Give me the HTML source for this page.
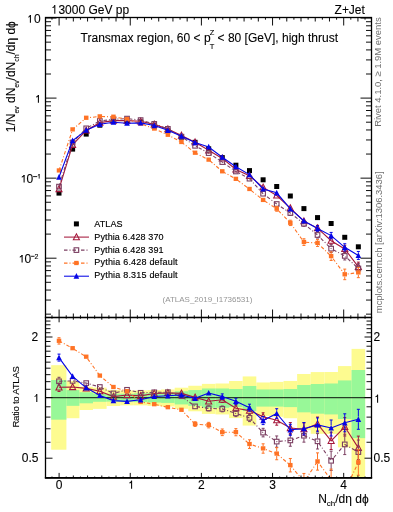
<!DOCTYPE html><html><head><meta charset="utf-8"><style>html,body{margin:0;padding:0;background:#fff;}svg{display:block;}</style></head><body>
<svg style="will-change:transform" width="393" height="512" viewBox="0 0 393 512" font-family='"Liberation Sans", sans-serif'>
<style>text{stroke:currentColor;stroke-width:0.1px;} text.g{stroke:none;} text.b{stroke-width:0.15px;}</style>
<rect x="0" y="0" width="393" height="512" fill="#fff"/>
<defs><clipPath id="cm"><rect x="45.5" y="17.5" width="326.0" height="300.0"/></clipPath><clipPath id="cr"><rect x="45.5" y="317.5" width="326.0" height="160.2"/></clipPath></defs>
<g clip-path="url(#cr)">
<rect x="51.20" y="365.18" width="15.20" height="84.53" fill="#fdfb90"/>
<rect x="66.40" y="380.94" width="13.01" height="37.27" fill="#fdfb90"/>
<rect x="79.41" y="386.76" width="13.60" height="23.22" fill="#fdfb90"/>
<rect x="93.02" y="387.61" width="13.60" height="21.26" fill="#fdfb90"/>
<rect x="106.63" y="389.95" width="13.60" height="16.04" fill="#fdfb90"/>
<rect x="120.23" y="390.47" width="13.60" height="14.90" fill="#fdfb90"/>
<rect x="133.84" y="390.47" width="13.60" height="14.90" fill="#fdfb90"/>
<rect x="147.45" y="390.07" width="13.60" height="15.78" fill="#fdfb90"/>
<rect x="161.06" y="389.51" width="13.60" height="17.01" fill="#fdfb90"/>
<rect x="174.66" y="387.69" width="13.60" height="21.08" fill="#fdfb90"/>
<rect x="188.27" y="385.76" width="13.60" height="25.53" fill="#fdfb90"/>
<rect x="201.88" y="383.87" width="13.60" height="30.02" fill="#fdfb90"/>
<rect x="215.48" y="383.50" width="13.60" height="30.92" fill="#fdfb90"/>
<rect x="229.09" y="381.01" width="13.60" height="37.09" fill="#fdfb90"/>
<rect x="242.70" y="376.43" width="13.60" height="49.16" fill="#fdfb90"/>
<rect x="256.31" y="382.47" width="13.60" height="33.45" fill="#fdfb90"/>
<rect x="269.91" y="381.88" width="13.60" height="34.90" fill="#fdfb90"/>
<rect x="283.52" y="380.94" width="13.60" height="37.27" fill="#fdfb90"/>
<rect x="297.13" y="373.99" width="13.60" height="56.05" fill="#fdfb90"/>
<rect x="310.73" y="372.08" width="13.60" height="61.71" fill="#fdfb90"/>
<rect x="324.34" y="372.01" width="13.60" height="61.91" fill="#fdfb90"/>
<rect x="337.95" y="366.09" width="13.60" height="81.27" fill="#fdfb90"/>
<rect x="351.55" y="348.88" width="13.60" height="168.53" fill="#fdfb90"/>
<rect x="51.20" y="380.00" width="15.20" height="39.66" fill="#98f898"/>
<rect x="66.40" y="390.07" width="13.01" height="15.78" fill="#98f898"/>
<rect x="79.41" y="392.26" width="13.60" height="11.03" fill="#98f898"/>
<rect x="93.02" y="393.58" width="13.60" height="8.22" fill="#98f898"/>
<rect x="106.63" y="393.75" width="13.60" height="7.87" fill="#98f898"/>
<rect x="120.23" y="393.75" width="13.60" height="7.87" fill="#98f898"/>
<rect x="133.84" y="393.33" width="13.60" height="8.75" fill="#98f898"/>
<rect x="147.45" y="392.92" width="13.60" height="9.63" fill="#98f898"/>
<rect x="161.06" y="392.59" width="13.60" height="10.33" fill="#98f898"/>
<rect x="174.66" y="391.28" width="13.60" height="13.14" fill="#98f898"/>
<rect x="188.27" y="390.07" width="13.60" height="15.78" fill="#98f898"/>
<rect x="201.88" y="388.48" width="13.60" height="19.31" fill="#98f898"/>
<rect x="215.48" y="388.48" width="13.60" height="19.31" fill="#98f898"/>
<rect x="229.09" y="389.03" width="13.60" height="18.07" fill="#98f898"/>
<rect x="242.70" y="385.99" width="13.60" height="25.00" fill="#98f898"/>
<rect x="256.31" y="389.43" width="13.60" height="17.19" fill="#98f898"/>
<rect x="269.91" y="389.43" width="13.60" height="17.19" fill="#98f898"/>
<rect x="283.52" y="389.03" width="13.60" height="18.07" fill="#98f898"/>
<rect x="297.13" y="385.00" width="13.60" height="27.32" fill="#98f898"/>
<rect x="310.73" y="384.02" width="13.60" height="29.66" fill="#98f898"/>
<rect x="324.34" y="383.50" width="13.60" height="30.92" fill="#98f898"/>
<rect x="337.95" y="380.43" width="13.60" height="38.55" fill="#98f898"/>
<rect x="351.55" y="370.01" width="13.60" height="68.12" fill="#98f898"/>
<line x1="45.5" y1="397.6" x2="371.5" y2="397.6" stroke="#000" stroke-opacity="0.75" stroke-width="1.1"/>
</g>
<g clip-path="url(#cm)">
<rect x="56.50" y="190.60" width="5.00" height="5.00" fill="#000"/>
<rect x="70.11" y="146.60" width="5.00" height="5.00" fill="#000"/>
<rect x="83.71" y="131.60" width="5.00" height="5.00" fill="#000"/>
<rect x="97.32" y="122.70" width="5.00" height="5.00" fill="#000"/>
<rect x="110.93" y="118.50" width="5.00" height="5.00" fill="#000"/>
<rect x="124.53" y="119.20" width="5.00" height="5.00" fill="#000"/>
<rect x="138.14" y="119.50" width="5.00" height="5.00" fill="#000"/>
<rect x="151.75" y="123.50" width="5.00" height="5.00" fill="#000"/>
<rect x="165.36" y="128.50" width="5.00" height="5.00" fill="#000"/>
<rect x="178.96" y="134.70" width="5.00" height="5.00" fill="#000"/>
<rect x="192.57" y="139.80" width="5.00" height="5.00" fill="#000"/>
<rect x="206.18" y="146.30" width="5.00" height="5.00" fill="#000"/>
<rect x="219.78" y="155.10" width="5.00" height="5.00" fill="#000"/>
<rect x="233.39" y="162.70" width="5.00" height="5.00" fill="#000"/>
<rect x="247.00" y="168.10" width="5.00" height="5.00" fill="#000"/>
<rect x="260.61" y="177.30" width="5.00" height="5.00" fill="#000"/>
<rect x="274.21" y="184.00" width="5.00" height="5.00" fill="#000"/>
<rect x="287.82" y="193.50" width="5.00" height="5.00" fill="#000"/>
<rect x="301.43" y="206.10" width="5.00" height="5.00" fill="#000"/>
<rect x="315.03" y="215.10" width="5.00" height="5.00" fill="#000"/>
<rect x="328.64" y="221.00" width="5.00" height="5.00" fill="#000"/>
<rect x="342.25" y="234.80" width="5.00" height="5.00" fill="#000"/>
<rect x="355.85" y="244.30" width="5.00" height="5.00" fill="#000"/>
<polyline points="59.00,189.00 72.61,144.88 86.21,130.44 99.82,122.65 113.43,120.60 127.03,120.67 140.64,121.32 154.25,124.37 167.86,129.13 181.46,135.53 195.07,142.22 208.68,150.27 222.28,158.44 235.89,169.42 249.50,175.77 263.11,187.40 276.71,195.49 290.32,208.09 303.93,221.17 317.53,228.10 331.14,240.72 344.75,248.91 358.35,266.80" fill="none" stroke="#a5183c" stroke-width="1.1" />
<path d="M317.53,225.33V225.10M317.53,231.10V230.87M316.03,225.33h3M316.03,230.87h3" stroke="#a5183c" stroke-width="1" fill="none"/>
<path d="M331.14,237.29V237.72M331.14,243.72V244.14M329.64,237.29h3M329.64,244.14h3" stroke="#a5183c" stroke-width="1" fill="none"/>
<path d="M344.75,245.25V245.91M344.75,251.91V252.57M343.25,245.25h3M343.25,252.57h3" stroke="#a5183c" stroke-width="1" fill="none"/>
<path d="M358.35,262.12V263.80M358.35,269.80V271.49M356.85,262.12h3M356.85,271.49h3" stroke="#a5183c" stroke-width="1" fill="none"/>
<polygon points="59.00,185.70 62.05,191.60 55.95,191.60" fill="none" stroke="#a5183c" stroke-width="1.05"/>
<polygon points="72.61,141.58 75.66,147.48 69.56,147.48" fill="none" stroke="#a5183c" stroke-width="1.05"/>
<polygon points="86.21,127.14 89.26,133.04 83.16,133.04" fill="none" stroke="#a5183c" stroke-width="1.05"/>
<polygon points="99.82,119.35 102.87,125.25 96.77,125.25" fill="none" stroke="#a5183c" stroke-width="1.05"/>
<polygon points="113.43,117.30 116.48,123.20 110.38,123.20" fill="none" stroke="#a5183c" stroke-width="1.05"/>
<polygon points="127.03,117.37 130.09,123.27 123.98,123.27" fill="none" stroke="#a5183c" stroke-width="1.05"/>
<polygon points="140.64,118.02 143.69,123.92 137.59,123.92" fill="none" stroke="#a5183c" stroke-width="1.05"/>
<polygon points="154.25,121.07 157.30,126.97 151.20,126.97" fill="none" stroke="#a5183c" stroke-width="1.05"/>
<polygon points="167.86,125.83 170.91,131.73 164.81,131.73" fill="none" stroke="#a5183c" stroke-width="1.05"/>
<polygon points="181.46,132.23 184.51,138.13 178.41,138.13" fill="none" stroke="#a5183c" stroke-width="1.05"/>
<polygon points="195.07,138.92 198.12,144.82 192.02,144.82" fill="none" stroke="#a5183c" stroke-width="1.05"/>
<polygon points="208.68,146.97 211.73,152.87 205.63,152.87" fill="none" stroke="#a5183c" stroke-width="1.05"/>
<polygon points="222.28,155.14 225.33,161.04 219.23,161.04" fill="none" stroke="#a5183c" stroke-width="1.05"/>
<polygon points="235.89,166.12 238.94,172.02 232.84,172.02" fill="none" stroke="#a5183c" stroke-width="1.05"/>
<polygon points="249.50,172.47 252.55,178.37 246.45,178.37" fill="none" stroke="#a5183c" stroke-width="1.05"/>
<polygon points="263.11,184.10 266.16,190.00 260.06,190.00" fill="none" stroke="#a5183c" stroke-width="1.05"/>
<polygon points="276.71,192.19 279.76,198.09 273.66,198.09" fill="none" stroke="#a5183c" stroke-width="1.05"/>
<polygon points="290.32,204.79 293.37,210.69 287.27,210.69" fill="none" stroke="#a5183c" stroke-width="1.05"/>
<polygon points="303.93,217.87 306.98,223.77 300.88,223.77" fill="none" stroke="#a5183c" stroke-width="1.05"/>
<polygon points="317.53,224.80 320.58,230.70 314.48,230.70" fill="none" stroke="#a5183c" stroke-width="1.05"/>
<polygon points="331.14,237.42 334.19,243.32 328.09,243.32" fill="none" stroke="#a5183c" stroke-width="1.05"/>
<polygon points="344.75,245.61 347.80,251.51 341.70,251.51" fill="none" stroke="#a5183c" stroke-width="1.05"/>
<polygon points="358.35,263.50 361.40,269.40 355.30,269.40" fill="none" stroke="#a5183c" stroke-width="1.05"/>
<polyline points="59.00,186.62 72.61,142.46 86.21,128.33 99.82,120.98 113.43,119.33 127.03,118.60 140.64,120.09 154.25,123.89 167.86,128.85 181.46,136.64 195.07,145.80 208.68,153.09 222.28,162.09 235.89,171.48 249.50,178.67 263.11,193.72 276.71,204.00 290.32,213.02 303.93,223.75 317.53,234.98 331.14,248.63 344.75,255.91 358.35,268.47" fill="none" stroke="#7b3f62" stroke-width="1.1" stroke-dasharray="3.5,2,1,2"/>
<path d="M290.32,210.70V210.42M290.32,215.62V215.34M288.82,210.70h3M288.82,215.34h3" stroke="#7b3f62" stroke-width="1" fill="none"/>
<path d="M303.93,221.18V221.15M303.93,226.35V226.32M302.43,221.18h3M302.43,226.32h3" stroke="#7b3f62" stroke-width="1" fill="none"/>
<path d="M317.53,231.92V232.38M317.53,237.58V238.04M316.03,231.92h3M316.03,238.04h3" stroke="#7b3f62" stroke-width="1" fill="none"/>
<path d="M331.14,244.79V246.03M331.14,251.23V252.47M329.64,244.79h3M329.64,252.47h3" stroke="#7b3f62" stroke-width="1" fill="none"/>
<path d="M344.75,251.86V253.31M344.75,258.51V259.96M343.25,251.86h3M343.25,259.96h3" stroke="#7b3f62" stroke-width="1" fill="none"/>
<path d="M358.35,263.68V265.87M358.35,271.07V273.27M356.85,263.68h3M356.85,273.27h3" stroke="#7b3f62" stroke-width="1" fill="none"/>
<rect x="56.70" y="184.32" width="4.60" height="4.60" fill="none" stroke="#7b3f62" stroke-width="1.1"/>
<rect x="70.31" y="140.16" width="4.60" height="4.60" fill="none" stroke="#7b3f62" stroke-width="1.1"/>
<rect x="83.91" y="126.03" width="4.60" height="4.60" fill="none" stroke="#7b3f62" stroke-width="1.1"/>
<rect x="97.52" y="118.68" width="4.60" height="4.60" fill="none" stroke="#7b3f62" stroke-width="1.1"/>
<rect x="111.13" y="117.03" width="4.60" height="4.60" fill="none" stroke="#7b3f62" stroke-width="1.1"/>
<rect x="124.73" y="116.30" width="4.60" height="4.60" fill="none" stroke="#7b3f62" stroke-width="1.1"/>
<rect x="138.34" y="117.79" width="4.60" height="4.60" fill="none" stroke="#7b3f62" stroke-width="1.1"/>
<rect x="151.95" y="121.59" width="4.60" height="4.60" fill="none" stroke="#7b3f62" stroke-width="1.1"/>
<rect x="165.56" y="126.55" width="4.60" height="4.60" fill="none" stroke="#7b3f62" stroke-width="1.1"/>
<rect x="179.16" y="134.34" width="4.60" height="4.60" fill="none" stroke="#7b3f62" stroke-width="1.1"/>
<rect x="192.77" y="143.50" width="4.60" height="4.60" fill="none" stroke="#7b3f62" stroke-width="1.1"/>
<rect x="206.38" y="150.79" width="4.60" height="4.60" fill="none" stroke="#7b3f62" stroke-width="1.1"/>
<rect x="219.98" y="159.79" width="4.60" height="4.60" fill="none" stroke="#7b3f62" stroke-width="1.1"/>
<rect x="233.59" y="169.18" width="4.60" height="4.60" fill="none" stroke="#7b3f62" stroke-width="1.1"/>
<rect x="247.20" y="176.37" width="4.60" height="4.60" fill="none" stroke="#7b3f62" stroke-width="1.1"/>
<rect x="260.81" y="191.42" width="4.60" height="4.60" fill="none" stroke="#7b3f62" stroke-width="1.1"/>
<rect x="274.41" y="201.70" width="4.60" height="4.60" fill="none" stroke="#7b3f62" stroke-width="1.1"/>
<rect x="288.02" y="210.72" width="4.60" height="4.60" fill="none" stroke="#7b3f62" stroke-width="1.1"/>
<rect x="301.63" y="221.45" width="4.60" height="4.60" fill="none" stroke="#7b3f62" stroke-width="1.1"/>
<rect x="315.23" y="232.68" width="4.60" height="4.60" fill="none" stroke="#7b3f62" stroke-width="1.1"/>
<rect x="328.84" y="246.33" width="4.60" height="4.60" fill="none" stroke="#7b3f62" stroke-width="1.1"/>
<rect x="342.45" y="253.61" width="4.60" height="4.60" fill="none" stroke="#7b3f62" stroke-width="1.1"/>
<rect x="356.05" y="266.17" width="4.60" height="4.60" fill="none" stroke="#7b3f62" stroke-width="1.1"/>
<polyline points="59.00,170.55 72.61,129.50 86.21,117.88 99.82,116.49 113.43,116.82 127.03,119.19 140.64,123.75 154.25,128.66 167.86,134.86 181.46,142.09 195.07,152.84 208.68,159.74 222.28,171.40 235.89,178.96 249.50,189.09 263.11,200.04 276.71,208.81 290.32,222.88 303.93,242.10 317.53,243.01 331.14,256.20 344.75,274.40 358.35,272.57" fill="none" stroke="#ff7325" stroke-width="1.1" stroke-dasharray="3.5,2,1,2"/>
<path d="M276.71,206.41V206.61M276.71,211.01V211.21M275.21,206.41h3M275.21,211.21h3" stroke="#ff7325" stroke-width="1" fill="none"/>
<path d="M290.32,220.20V220.68M290.32,225.08V225.56M288.82,220.20h3M288.82,225.56h3" stroke="#ff7325" stroke-width="1" fill="none"/>
<path d="M303.93,238.76V239.90M303.93,244.30V245.44M302.43,238.76h3M302.43,245.44h3" stroke="#ff7325" stroke-width="1" fill="none"/>
<path d="M317.53,239.58V240.81M317.53,245.21V246.44M316.03,239.58h3M316.03,246.44h3" stroke="#ff7325" stroke-width="1" fill="none"/>
<path d="M331.14,251.92V254.00M331.14,258.40V260.48M329.64,251.92h3M329.64,260.48h3" stroke="#ff7325" stroke-width="1" fill="none"/>
<path d="M344.75,269.12V272.20M344.75,276.60V279.68M343.25,269.12h3M343.25,279.68h3" stroke="#ff7325" stroke-width="1" fill="none"/>
<path d="M358.35,267.48V270.37M358.35,274.77V277.66M356.85,267.48h3M356.85,277.66h3" stroke="#ff7325" stroke-width="1" fill="none"/>
<rect x="56.75" y="168.30" width="4.50" height="4.27" fill="#ff7325"/>
<rect x="70.36" y="127.25" width="4.50" height="4.27" fill="#ff7325"/>
<rect x="83.96" y="115.63" width="4.50" height="4.27" fill="#ff7325"/>
<rect x="97.57" y="114.24" width="4.50" height="4.27" fill="#ff7325"/>
<rect x="111.18" y="114.57" width="4.50" height="4.27" fill="#ff7325"/>
<rect x="124.78" y="116.94" width="4.50" height="4.27" fill="#ff7325"/>
<rect x="138.39" y="121.50" width="4.50" height="4.27" fill="#ff7325"/>
<rect x="152.00" y="126.41" width="4.50" height="4.27" fill="#ff7325"/>
<rect x="165.61" y="132.61" width="4.50" height="4.27" fill="#ff7325"/>
<rect x="179.21" y="139.84" width="4.50" height="4.27" fill="#ff7325"/>
<rect x="192.82" y="150.59" width="4.50" height="4.27" fill="#ff7325"/>
<rect x="206.43" y="157.49" width="4.50" height="4.27" fill="#ff7325"/>
<rect x="220.03" y="169.15" width="4.50" height="4.27" fill="#ff7325"/>
<rect x="233.64" y="176.71" width="4.50" height="4.27" fill="#ff7325"/>
<rect x="247.25" y="186.84" width="4.50" height="4.27" fill="#ff7325"/>
<rect x="260.86" y="197.79" width="4.50" height="4.27" fill="#ff7325"/>
<rect x="274.46" y="206.56" width="4.50" height="4.27" fill="#ff7325"/>
<rect x="288.07" y="220.63" width="4.50" height="4.27" fill="#ff7325"/>
<rect x="301.68" y="239.85" width="4.50" height="4.27" fill="#ff7325"/>
<rect x="315.28" y="240.76" width="4.50" height="4.27" fill="#ff7325"/>
<rect x="328.89" y="253.95" width="4.50" height="4.27" fill="#ff7325"/>
<rect x="342.50" y="272.15" width="4.50" height="4.27" fill="#ff7325"/>
<rect x="356.10" y="270.32" width="4.50" height="4.27" fill="#ff7325"/>
<polyline points="59.00,177.19 72.61,140.63 86.21,130.20 99.82,124.33 113.43,122.19 127.03,123.21 140.64,122.87 154.25,125.56 167.86,130.28 181.46,136.17 195.07,142.58 208.68,146.97 222.28,157.20 235.89,166.67 249.50,174.62 263.11,188.95 276.71,192.82 290.32,208.80 303.93,220.97 317.53,228.46 331.14,235.59 344.75,247.32 358.35,255.43" fill="none" stroke="#0505e6" stroke-width="1.1" />
<path d="M317.53,225.67V225.66M317.53,231.26V231.24M316.03,225.67h3M316.03,231.24h3" stroke="#0505e6" stroke-width="1" fill="none"/>
<path d="M331.14,232.41V232.79M331.14,238.39V238.77M329.64,232.41h3M329.64,238.77h3" stroke="#0505e6" stroke-width="1" fill="none"/>
<path d="M344.75,243.74V244.52M344.75,250.12V250.90M343.25,243.74h3M343.25,250.90h3" stroke="#0505e6" stroke-width="1" fill="none"/>
<path d="M358.35,251.45V252.63M358.35,258.23V259.41M356.85,251.45h3M356.85,259.41h3" stroke="#0505e6" stroke-width="1" fill="none"/>
<polygon points="59.00,174.09 61.80,179.79 56.20,179.79" fill="#0505e6"/>
<polygon points="72.61,137.53 75.41,143.23 69.81,143.23" fill="#0505e6"/>
<polygon points="86.21,127.10 89.01,132.80 83.41,132.80" fill="#0505e6"/>
<polygon points="99.82,121.23 102.62,126.93 97.02,126.93" fill="#0505e6"/>
<polygon points="113.43,119.09 116.23,124.79 110.63,124.79" fill="#0505e6"/>
<polygon points="127.03,120.11 129.84,125.81 124.23,125.81" fill="#0505e6"/>
<polygon points="140.64,119.77 143.44,125.47 137.84,125.47" fill="#0505e6"/>
<polygon points="154.25,122.46 157.05,128.16 151.45,128.16" fill="#0505e6"/>
<polygon points="167.86,127.18 170.66,132.88 165.06,132.88" fill="#0505e6"/>
<polygon points="181.46,133.07 184.26,138.77 178.66,138.77" fill="#0505e6"/>
<polygon points="195.07,139.48 197.87,145.18 192.27,145.18" fill="#0505e6"/>
<polygon points="208.68,143.87 211.48,149.57 205.88,149.57" fill="#0505e6"/>
<polygon points="222.28,154.10 225.08,159.80 219.48,159.80" fill="#0505e6"/>
<polygon points="235.89,163.57 238.69,169.27 233.09,169.27" fill="#0505e6"/>
<polygon points="249.50,171.52 252.30,177.22 246.70,177.22" fill="#0505e6"/>
<polygon points="263.11,185.85 265.91,191.55 260.31,191.55" fill="#0505e6"/>
<polygon points="276.71,189.72 279.51,195.42 273.91,195.42" fill="#0505e6"/>
<polygon points="290.32,205.70 293.12,211.40 287.52,211.40" fill="#0505e6"/>
<polygon points="303.93,217.87 306.73,223.57 301.13,223.57" fill="#0505e6"/>
<polygon points="317.53,225.36 320.33,231.06 314.73,231.06" fill="#0505e6"/>
<polygon points="331.14,232.49 333.94,238.19 328.34,238.19" fill="#0505e6"/>
<polygon points="344.75,244.22 347.55,249.92 341.95,249.92" fill="#0505e6"/>
<polygon points="358.35,252.33 361.15,258.03 355.55,258.03" fill="#0505e6"/>
</g>
<g clip-path="url(#cr)">
<polyline points="59.00,387.30 72.61,387.00 86.21,388.40 99.82,391.20 113.43,396.60 127.03,395.00 140.64,395.90 154.25,393.50 167.86,392.90 181.46,393.40 195.07,397.40 208.68,401.30 222.28,399.70 235.89,408.20 249.50,410.60 263.11,416.70 276.71,420.20 290.32,428.00 303.93,429.20 317.53,424.00 331.14,440.90 344.75,426.80 358.35,447.90" fill="none" stroke="#a5183c" stroke-width="1.1" />
<path d="M59.00,383.15V384.30M59.00,390.30V391.45M57.50,383.15h3M57.50,391.45h3" stroke="#a5183c" stroke-width="1" fill="none"/>
<path d="M222.28,396.95V396.70M222.28,402.70V402.45M220.78,396.95h3M220.78,402.45h3" stroke="#a5183c" stroke-width="1" fill="none"/>
<path d="M235.89,405.08V405.20M235.89,411.20V411.32M234.39,405.08h3M234.39,411.32h3" stroke="#a5183c" stroke-width="1" fill="none"/>
<path d="M249.50,407.04V407.60M249.50,413.60V414.16M248.00,407.04h3M248.00,414.16h3" stroke="#a5183c" stroke-width="1" fill="none"/>
<path d="M263.11,412.79V413.70M263.11,419.70V420.61M261.61,412.79h3M261.61,420.61h3" stroke="#a5183c" stroke-width="1" fill="none"/>
<path d="M276.71,415.21V417.20M276.71,423.20V425.19M275.21,415.21h3M275.21,425.19h3" stroke="#a5183c" stroke-width="1" fill="none"/>
<path d="M290.32,422.56V425.00M290.32,431.00V433.44M288.82,422.56h3M288.82,433.44h3" stroke="#a5183c" stroke-width="1" fill="none"/>
<path d="M303.93,422.98V426.20M303.93,432.20V435.42M302.43,422.98h3M302.43,435.42h3" stroke="#a5183c" stroke-width="1" fill="none"/>
<path d="M317.53,417.04V421.00M317.53,427.00V430.96M316.03,417.04h3M316.03,430.96h3" stroke="#a5183c" stroke-width="1" fill="none"/>
<path d="M331.14,432.29V437.90M331.14,443.90V449.51M329.64,432.29h3M329.64,449.51h3" stroke="#a5183c" stroke-width="1" fill="none"/>
<path d="M344.75,417.59V423.80M344.75,429.80V436.01M343.25,417.59h3M343.25,436.01h3" stroke="#a5183c" stroke-width="1" fill="none"/>
<path d="M358.35,436.12V444.90M358.35,450.90V459.68M356.85,436.12h3M356.85,459.68h3" stroke="#a5183c" stroke-width="1" fill="none"/>
<polygon points="59.00,384.00 62.05,389.90 55.95,389.90" fill="none" stroke="#a5183c" stroke-width="1.05"/>
<polygon points="72.61,383.70 75.66,389.60 69.56,389.60" fill="none" stroke="#a5183c" stroke-width="1.05"/>
<polygon points="86.21,385.10 89.26,391.00 83.16,391.00" fill="none" stroke="#a5183c" stroke-width="1.05"/>
<polygon points="99.82,387.90 102.87,393.80 96.77,393.80" fill="none" stroke="#a5183c" stroke-width="1.05"/>
<polygon points="113.43,393.30 116.48,399.20 110.38,399.20" fill="none" stroke="#a5183c" stroke-width="1.05"/>
<polygon points="127.03,391.70 130.09,397.60 123.98,397.60" fill="none" stroke="#a5183c" stroke-width="1.05"/>
<polygon points="140.64,392.60 143.69,398.50 137.59,398.50" fill="none" stroke="#a5183c" stroke-width="1.05"/>
<polygon points="154.25,390.20 157.30,396.10 151.20,396.10" fill="none" stroke="#a5183c" stroke-width="1.05"/>
<polygon points="167.86,389.60 170.91,395.50 164.81,395.50" fill="none" stroke="#a5183c" stroke-width="1.05"/>
<polygon points="181.46,390.10 184.51,396.00 178.41,396.00" fill="none" stroke="#a5183c" stroke-width="1.05"/>
<polygon points="195.07,394.10 198.12,400.00 192.02,400.00" fill="none" stroke="#a5183c" stroke-width="1.05"/>
<polygon points="208.68,398.00 211.73,403.90 205.63,403.90" fill="none" stroke="#a5183c" stroke-width="1.05"/>
<polygon points="222.28,396.40 225.33,402.30 219.23,402.30" fill="none" stroke="#a5183c" stroke-width="1.05"/>
<polygon points="235.89,404.90 238.94,410.80 232.84,410.80" fill="none" stroke="#a5183c" stroke-width="1.05"/>
<polygon points="249.50,407.30 252.55,413.20 246.45,413.20" fill="none" stroke="#a5183c" stroke-width="1.05"/>
<polygon points="263.11,413.40 266.16,419.30 260.06,419.30" fill="none" stroke="#a5183c" stroke-width="1.05"/>
<polygon points="276.71,416.90 279.76,422.80 273.66,422.80" fill="none" stroke="#a5183c" stroke-width="1.05"/>
<polygon points="290.32,424.70 293.37,430.60 287.27,430.60" fill="none" stroke="#a5183c" stroke-width="1.05"/>
<polygon points="303.93,425.90 306.98,431.80 300.88,431.80" fill="none" stroke="#a5183c" stroke-width="1.05"/>
<polygon points="317.53,420.70 320.58,426.60 314.48,426.60" fill="none" stroke="#a5183c" stroke-width="1.05"/>
<polygon points="331.14,437.60 334.19,443.50 328.09,443.50" fill="none" stroke="#a5183c" stroke-width="1.05"/>
<polygon points="344.75,423.50 347.80,429.40 341.70,429.40" fill="none" stroke="#a5183c" stroke-width="1.05"/>
<polygon points="358.35,444.60 361.40,450.50 355.30,450.50" fill="none" stroke="#a5183c" stroke-width="1.05"/>
<polyline points="59.00,381.30 72.61,380.90 86.21,383.10 99.82,387.00 113.43,393.40 127.03,389.80 140.64,392.80 154.25,392.30 167.86,392.20 181.46,396.20 195.07,406.40 208.68,408.40 222.28,408.90 235.89,413.40 249.50,417.90 263.11,432.60 276.71,441.60 290.32,440.40 303.93,435.70 317.53,441.30 331.14,460.80 344.75,444.40 358.35,452.10" fill="none" stroke="#7b3f62" stroke-width="1.1" stroke-dasharray="3.5,2,1,2"/>
<path d="M59.00,377.29V378.70M59.00,383.90V385.31M57.50,377.29h3M57.50,385.31h3" stroke="#7b3f62" stroke-width="1" fill="none"/>
<path d="M208.68,405.89V405.80M208.68,411.00V410.91M207.18,405.89h3M207.18,410.91h3" stroke="#7b3f62" stroke-width="1" fill="none"/>
<path d="M222.28,406.00V406.30M222.28,411.50V411.80M220.78,406.00h3M220.78,411.80h3" stroke="#7b3f62" stroke-width="1" fill="none"/>
<path d="M235.89,410.19V410.80M235.89,416.00V416.61M234.39,410.19h3M234.39,416.61h3" stroke="#7b3f62" stroke-width="1" fill="none"/>
<path d="M249.50,414.19V415.30M249.50,420.50V421.61M248.00,414.19h3M248.00,421.61h3" stroke="#7b3f62" stroke-width="1" fill="none"/>
<path d="M263.11,428.32V430.00M263.11,435.20V436.88M261.61,428.32h3M261.61,436.88h3" stroke="#7b3f62" stroke-width="1" fill="none"/>
<path d="M276.71,435.96V439.00M276.71,444.20V447.24M275.21,435.96h3M275.21,447.24h3" stroke="#7b3f62" stroke-width="1" fill="none"/>
<path d="M290.32,434.56V437.80M290.32,443.00V446.24M288.82,434.56h3M288.82,446.24h3" stroke="#7b3f62" stroke-width="1" fill="none"/>
<path d="M303.93,429.25V433.10M303.93,438.30V442.15M302.43,429.25h3M302.43,442.15h3" stroke="#7b3f62" stroke-width="1" fill="none"/>
<path d="M317.53,433.61V438.70M317.53,443.90V448.99M316.03,433.61h3M316.03,448.99h3" stroke="#7b3f62" stroke-width="1" fill="none"/>
<path d="M331.14,451.15V458.20M331.14,463.40V470.45M329.64,451.15h3M329.64,470.45h3" stroke="#7b3f62" stroke-width="1" fill="none"/>
<path d="M344.75,434.22V441.80M344.75,447.00V454.58M343.25,434.22h3M343.25,454.58h3" stroke="#7b3f62" stroke-width="1" fill="none"/>
<path d="M358.35,440.04V449.50M358.35,454.70V464.16M356.85,440.04h3M356.85,464.16h3" stroke="#7b3f62" stroke-width="1" fill="none"/>
<rect x="56.70" y="379.00" width="4.60" height="4.60" fill="none" stroke="#7b3f62" stroke-width="1.1"/>
<rect x="70.31" y="378.60" width="4.60" height="4.60" fill="none" stroke="#7b3f62" stroke-width="1.1"/>
<rect x="83.91" y="380.80" width="4.60" height="4.60" fill="none" stroke="#7b3f62" stroke-width="1.1"/>
<rect x="97.52" y="384.70" width="4.60" height="4.60" fill="none" stroke="#7b3f62" stroke-width="1.1"/>
<rect x="111.13" y="391.10" width="4.60" height="4.60" fill="none" stroke="#7b3f62" stroke-width="1.1"/>
<rect x="124.73" y="387.50" width="4.60" height="4.60" fill="none" stroke="#7b3f62" stroke-width="1.1"/>
<rect x="138.34" y="390.50" width="4.60" height="4.60" fill="none" stroke="#7b3f62" stroke-width="1.1"/>
<rect x="151.95" y="390.00" width="4.60" height="4.60" fill="none" stroke="#7b3f62" stroke-width="1.1"/>
<rect x="165.56" y="389.90" width="4.60" height="4.60" fill="none" stroke="#7b3f62" stroke-width="1.1"/>
<rect x="179.16" y="393.90" width="4.60" height="4.60" fill="none" stroke="#7b3f62" stroke-width="1.1"/>
<rect x="192.77" y="404.10" width="4.60" height="4.60" fill="none" stroke="#7b3f62" stroke-width="1.1"/>
<rect x="206.38" y="406.10" width="4.60" height="4.60" fill="none" stroke="#7b3f62" stroke-width="1.1"/>
<rect x="219.98" y="406.60" width="4.60" height="4.60" fill="none" stroke="#7b3f62" stroke-width="1.1"/>
<rect x="233.59" y="411.10" width="4.60" height="4.60" fill="none" stroke="#7b3f62" stroke-width="1.1"/>
<rect x="247.20" y="415.60" width="4.60" height="4.60" fill="none" stroke="#7b3f62" stroke-width="1.1"/>
<rect x="260.81" y="430.30" width="4.60" height="4.60" fill="none" stroke="#7b3f62" stroke-width="1.1"/>
<rect x="274.41" y="439.30" width="4.60" height="4.60" fill="none" stroke="#7b3f62" stroke-width="1.1"/>
<rect x="288.02" y="438.10" width="4.60" height="4.60" fill="none" stroke="#7b3f62" stroke-width="1.1"/>
<rect x="301.63" y="433.40" width="4.60" height="4.60" fill="none" stroke="#7b3f62" stroke-width="1.1"/>
<rect x="315.23" y="439.00" width="4.60" height="4.60" fill="none" stroke="#7b3f62" stroke-width="1.1"/>
<rect x="328.84" y="458.50" width="4.60" height="4.60" fill="none" stroke="#7b3f62" stroke-width="1.1"/>
<rect x="342.45" y="442.10" width="4.60" height="4.60" fill="none" stroke="#7b3f62" stroke-width="1.1"/>
<rect x="356.05" y="449.80" width="4.60" height="4.60" fill="none" stroke="#7b3f62" stroke-width="1.1"/>
<polyline points="59.00,340.90 72.61,348.30 86.21,356.80 99.82,375.70 113.43,387.10 127.03,391.30 140.64,402.00 154.25,404.30 167.86,407.30 181.46,409.90 195.07,424.10 208.68,425.10 222.28,432.30 235.89,432.20 249.50,444.10 263.11,448.50 276.71,453.70 290.32,465.20 303.93,481.84 317.53,461.50 331.14,479.83 344.75,490.90 358.35,462.40" fill="none" stroke="#ff7325" stroke-width="1.1" stroke-dasharray="3.5,2,1,2"/>
<path d="M59.00,337.72V338.70M59.00,343.10V344.08M57.50,337.72h3M57.50,344.08h3" stroke="#ff7325" stroke-width="1" fill="none"/>
<path d="M195.07,421.78V421.90M195.07,426.30V426.42M193.57,421.78h3M193.57,426.42h3" stroke="#ff7325" stroke-width="1" fill="none"/>
<path d="M208.68,422.34V422.90M208.68,427.30V427.86M207.18,422.34h3M207.18,427.86h3" stroke="#ff7325" stroke-width="1" fill="none"/>
<path d="M222.28,428.99V430.10M222.28,434.50V435.61M220.78,428.99h3M220.78,435.61h3" stroke="#ff7325" stroke-width="1" fill="none"/>
<path d="M235.89,428.62V430.00M235.89,434.40V435.78M234.39,428.62h3M234.39,435.78h3" stroke="#ff7325" stroke-width="1" fill="none"/>
<path d="M249.50,439.79V441.90M249.50,446.30V448.41M248.00,439.79h3M248.00,448.41h3" stroke="#ff7325" stroke-width="1" fill="none"/>
<path d="M263.11,443.81V446.30M263.11,450.70V453.19M261.61,443.81h3M261.61,453.19h3" stroke="#ff7325" stroke-width="1" fill="none"/>
<path d="M276.71,447.66V451.50M276.71,455.90V459.74M275.21,447.66h3M275.21,459.74h3" stroke="#ff7325" stroke-width="1" fill="none"/>
<path d="M290.32,458.47V463.00M290.32,467.40V471.93M288.82,458.47h3M288.82,471.93h3" stroke="#ff7325" stroke-width="1" fill="none"/>
<path d="M303.93,473.44V479.64M303.93,484.04V490.24M302.43,473.44h3M302.43,490.24h3" stroke="#ff7325" stroke-width="1" fill="none"/>
<path d="M317.53,452.87V459.30M317.53,463.70V470.13M316.03,452.87h3M316.03,470.13h3" stroke="#ff7325" stroke-width="1" fill="none"/>
<path d="M331.14,469.07V477.63M331.14,482.03V490.59M329.64,469.07h3M329.64,490.59h3" stroke="#ff7325" stroke-width="1" fill="none"/>
<path d="M344.75,477.61V488.70M344.75,493.10V504.18M343.25,477.61h3M343.25,504.18h3" stroke="#ff7325" stroke-width="1" fill="none"/>
<path d="M358.35,449.60V460.20M358.35,464.60V475.20M356.85,449.60h3M356.85,475.20h3" stroke="#ff7325" stroke-width="1" fill="none"/>
<rect x="56.75" y="338.65" width="4.50" height="4.27" fill="#ff7325"/>
<rect x="70.36" y="346.05" width="4.50" height="4.27" fill="#ff7325"/>
<rect x="83.96" y="354.55" width="4.50" height="4.27" fill="#ff7325"/>
<rect x="97.57" y="373.45" width="4.50" height="4.27" fill="#ff7325"/>
<rect x="111.18" y="384.85" width="4.50" height="4.27" fill="#ff7325"/>
<rect x="124.78" y="389.05" width="4.50" height="4.27" fill="#ff7325"/>
<rect x="138.39" y="399.75" width="4.50" height="4.27" fill="#ff7325"/>
<rect x="152.00" y="402.05" width="4.50" height="4.27" fill="#ff7325"/>
<rect x="165.61" y="405.05" width="4.50" height="4.27" fill="#ff7325"/>
<rect x="179.21" y="407.65" width="4.50" height="4.27" fill="#ff7325"/>
<rect x="192.82" y="421.85" width="4.50" height="4.27" fill="#ff7325"/>
<rect x="206.43" y="422.85" width="4.50" height="4.27" fill="#ff7325"/>
<rect x="220.03" y="430.05" width="4.50" height="4.27" fill="#ff7325"/>
<rect x="233.64" y="429.95" width="4.50" height="4.27" fill="#ff7325"/>
<rect x="247.25" y="441.85" width="4.50" height="4.27" fill="#ff7325"/>
<rect x="260.86" y="446.25" width="4.50" height="4.27" fill="#ff7325"/>
<rect x="274.46" y="451.45" width="4.50" height="4.27" fill="#ff7325"/>
<rect x="288.07" y="462.95" width="4.50" height="4.27" fill="#ff7325"/>
<rect x="301.68" y="479.59" width="4.50" height="4.27" fill="#ff7325"/>
<rect x="315.28" y="459.25" width="4.50" height="4.27" fill="#ff7325"/>
<rect x="328.89" y="477.58" width="4.50" height="4.27" fill="#ff7325"/>
<rect x="342.50" y="488.65" width="4.50" height="4.27" fill="#ff7325"/>
<rect x="356.10" y="460.15" width="4.50" height="4.27" fill="#ff7325"/>
<polyline points="59.00,357.60 72.61,376.30 86.21,387.80 99.82,395.40 113.43,400.60 127.03,401.40 140.64,399.80 154.25,396.50 167.86,395.80 181.46,395.00 195.07,398.30 208.68,393.00 222.28,396.60 235.89,401.30 249.50,407.70 263.11,420.60 276.71,413.50 290.32,429.80 303.93,428.70 317.53,424.90 331.14,428.00 344.75,422.80 358.35,419.30" fill="none" stroke="#0505e6" stroke-width="1.1" />
<path d="M59.00,354.10V354.80M59.00,360.40V361.10M57.50,354.10h3M57.50,361.10h3" stroke="#0505e6" stroke-width="1" fill="none"/>
<path d="M222.28,393.90V393.80M222.28,399.40V399.30M220.78,393.90h3M220.78,399.30h3" stroke="#0505e6" stroke-width="1" fill="none"/>
<path d="M235.89,398.30V398.50M235.89,404.10V404.30M234.39,398.30h3M234.39,404.30h3" stroke="#0505e6" stroke-width="1" fill="none"/>
<path d="M249.50,404.20V404.90M249.50,410.50V411.20M248.00,404.20h3M248.00,411.20h3" stroke="#0505e6" stroke-width="1" fill="none"/>
<path d="M263.11,416.60V417.80M263.11,423.40V424.60M261.61,416.60h3M261.61,424.60h3" stroke="#0505e6" stroke-width="1" fill="none"/>
<path d="M276.71,408.70V410.70M276.71,416.30V418.30M275.21,408.70h3M275.21,418.30h3" stroke="#0505e6" stroke-width="1" fill="none"/>
<path d="M290.32,424.30V427.00M290.32,432.60V435.30M288.82,424.30h3M288.82,435.30h3" stroke="#0505e6" stroke-width="1" fill="none"/>
<path d="M303.93,422.50V425.90M303.93,431.50V434.90M302.43,422.50h3M302.43,434.90h3" stroke="#0505e6" stroke-width="1" fill="none"/>
<path d="M317.53,417.90V422.10M317.53,427.70V431.90M316.03,417.90h3M316.03,431.90h3" stroke="#0505e6" stroke-width="1" fill="none"/>
<path d="M331.14,420.00V425.20M331.14,430.80V436.00M329.64,420.00h3M329.64,436.00h3" stroke="#0505e6" stroke-width="1" fill="none"/>
<path d="M344.75,413.80V420.00M344.75,425.60V431.80M343.25,413.80h3M343.25,431.80h3" stroke="#0505e6" stroke-width="1" fill="none"/>
<path d="M358.35,409.30V416.50M358.35,422.10V429.30M356.85,409.30h3M356.85,429.30h3" stroke="#0505e6" stroke-width="1" fill="none"/>
<polygon points="59.00,354.50 61.80,360.20 56.20,360.20" fill="#0505e6"/>
<polygon points="72.61,373.20 75.41,378.90 69.81,378.90" fill="#0505e6"/>
<polygon points="86.21,384.70 89.01,390.40 83.41,390.40" fill="#0505e6"/>
<polygon points="99.82,392.30 102.62,398.00 97.02,398.00" fill="#0505e6"/>
<polygon points="113.43,397.50 116.23,403.20 110.63,403.20" fill="#0505e6"/>
<polygon points="127.03,398.30 129.84,404.00 124.23,404.00" fill="#0505e6"/>
<polygon points="140.64,396.70 143.44,402.40 137.84,402.40" fill="#0505e6"/>
<polygon points="154.25,393.40 157.05,399.10 151.45,399.10" fill="#0505e6"/>
<polygon points="167.86,392.70 170.66,398.40 165.06,398.40" fill="#0505e6"/>
<polygon points="181.46,391.90 184.26,397.60 178.66,397.60" fill="#0505e6"/>
<polygon points="195.07,395.20 197.87,400.90 192.27,400.90" fill="#0505e6"/>
<polygon points="208.68,389.90 211.48,395.60 205.88,395.60" fill="#0505e6"/>
<polygon points="222.28,393.50 225.08,399.20 219.48,399.20" fill="#0505e6"/>
<polygon points="235.89,398.20 238.69,403.90 233.09,403.90" fill="#0505e6"/>
<polygon points="249.50,404.60 252.30,410.30 246.70,410.30" fill="#0505e6"/>
<polygon points="263.11,417.50 265.91,423.20 260.31,423.20" fill="#0505e6"/>
<polygon points="276.71,410.40 279.51,416.10 273.91,416.10" fill="#0505e6"/>
<polygon points="290.32,426.70 293.12,432.40 287.52,432.40" fill="#0505e6"/>
<polygon points="303.93,425.60 306.73,431.30 301.13,431.30" fill="#0505e6"/>
<polygon points="317.53,421.80 320.33,427.50 314.73,427.50" fill="#0505e6"/>
<polygon points="331.14,424.90 333.94,430.60 328.34,430.60" fill="#0505e6"/>
<polygon points="344.75,419.70 347.55,425.40 341.95,425.40" fill="#0505e6"/>
<polygon points="358.35,416.20 361.15,421.90 355.55,421.90" fill="#0505e6"/>
</g>
<rect x="45.5" y="17.5" width="326.0" height="300.0" fill="none" stroke="#000" stroke-width="1.3"/>
<rect x="45.5" y="317.5" width="326.0" height="160.2" fill="none" stroke="#000" stroke-width="1.3"/>
<path d="M44.85,477.8H372.15" stroke="#000" stroke-width="1.7"/>
<path d="M51.98,17.5v2.2M51.98,317.5v-2.2M51.98,317.5v1.2M51.98,477.7v-1.2M59.10,17.5v8.0M59.10,317.5v-8.0M59.10,317.5v4.8M59.10,477.7v-4.8M66.22,17.5v2.2M66.22,317.5v-2.2M66.22,317.5v1.2M66.22,477.7v-1.2M73.33,17.5v4.0M73.33,317.5v-4.0M73.33,317.5v2.2M73.33,477.7v-2.2M80.45,17.5v2.2M80.45,317.5v-2.2M80.45,317.5v1.2M80.45,477.7v-1.2M87.56,17.5v4.0M87.56,317.5v-4.0M87.56,317.5v2.2M87.56,477.7v-2.2M94.68,17.5v2.2M94.68,317.5v-2.2M94.68,317.5v1.2M94.68,477.7v-1.2M101.79,17.5v4.0M101.79,317.5v-4.0M101.79,317.5v2.2M101.79,477.7v-2.2M108.91,17.5v2.2M108.91,317.5v-2.2M108.91,317.5v1.2M108.91,477.7v-1.2M116.02,17.5v4.0M116.02,317.5v-4.0M116.02,317.5v2.2M116.02,477.7v-2.2M123.14,17.5v2.2M123.14,317.5v-2.2M123.14,317.5v1.2M123.14,477.7v-1.2M130.25,17.5v8.0M130.25,317.5v-8.0M130.25,317.5v4.8M130.25,477.7v-4.8M137.37,17.5v2.2M137.37,317.5v-2.2M137.37,317.5v1.2M137.37,477.7v-1.2M144.48,17.5v4.0M144.48,317.5v-4.0M144.48,317.5v2.2M144.48,477.7v-2.2M151.59,17.5v2.2M151.59,317.5v-2.2M151.59,317.5v1.2M151.59,477.7v-1.2M158.71,17.5v4.0M158.71,317.5v-4.0M158.71,317.5v2.2M158.71,477.7v-2.2M165.83,17.5v2.2M165.83,317.5v-2.2M165.83,317.5v1.2M165.83,477.7v-1.2M172.94,17.5v4.0M172.94,317.5v-4.0M172.94,317.5v2.2M172.94,477.7v-2.2M180.06,17.5v2.2M180.06,317.5v-2.2M180.06,317.5v1.2M180.06,477.7v-1.2M187.17,17.5v4.0M187.17,317.5v-4.0M187.17,317.5v2.2M187.17,477.7v-2.2M194.28,17.5v2.2M194.28,317.5v-2.2M194.28,317.5v1.2M194.28,477.7v-1.2M201.40,17.5v8.0M201.40,317.5v-8.0M201.40,317.5v4.8M201.40,477.7v-4.8M208.52,17.5v2.2M208.52,317.5v-2.2M208.52,317.5v1.2M208.52,477.7v-1.2M215.63,17.5v4.0M215.63,317.5v-4.0M215.63,317.5v2.2M215.63,477.7v-2.2M222.75,17.5v2.2M222.75,317.5v-2.2M222.75,317.5v1.2M222.75,477.7v-1.2M229.86,17.5v4.0M229.86,317.5v-4.0M229.86,317.5v2.2M229.86,477.7v-2.2M236.97,17.5v2.2M236.97,317.5v-2.2M236.97,317.5v1.2M236.97,477.7v-1.2M244.09,17.5v4.0M244.09,317.5v-4.0M244.09,317.5v2.2M244.09,477.7v-2.2M251.21,17.5v2.2M251.21,317.5v-2.2M251.21,317.5v1.2M251.21,477.7v-1.2M258.32,17.5v4.0M258.32,317.5v-4.0M258.32,317.5v2.2M258.32,477.7v-2.2M265.44,17.5v2.2M265.44,317.5v-2.2M265.44,317.5v1.2M265.44,477.7v-1.2M272.55,17.5v8.0M272.55,317.5v-8.0M272.55,317.5v4.8M272.55,477.7v-4.8M279.67,17.5v2.2M279.67,317.5v-2.2M279.67,317.5v1.2M279.67,477.7v-1.2M286.78,17.5v4.0M286.78,317.5v-4.0M286.78,317.5v2.2M286.78,477.7v-2.2M293.90,17.5v2.2M293.90,317.5v-2.2M293.90,317.5v1.2M293.90,477.7v-1.2M301.01,17.5v4.0M301.01,317.5v-4.0M301.01,317.5v2.2M301.01,477.7v-2.2M308.13,17.5v2.2M308.13,317.5v-2.2M308.13,317.5v1.2M308.13,477.7v-1.2M315.24,17.5v4.0M315.24,317.5v-4.0M315.24,317.5v2.2M315.24,477.7v-2.2M322.36,17.5v2.2M322.36,317.5v-2.2M322.36,317.5v1.2M322.36,477.7v-1.2M329.47,17.5v4.0M329.47,317.5v-4.0M329.47,317.5v2.2M329.47,477.7v-2.2M336.59,17.5v2.2M336.59,317.5v-2.2M336.59,317.5v1.2M336.59,477.7v-1.2M343.70,17.5v8.0M343.70,317.5v-8.0M343.70,317.5v4.8M343.70,477.7v-4.8M350.81,17.5v2.2M350.81,317.5v-2.2M350.81,317.5v1.2M350.81,477.7v-1.2M357.93,17.5v4.0M357.93,317.5v-4.0M357.93,317.5v2.2M357.93,477.7v-2.2M365.05,17.5v2.2M365.05,317.5v-2.2M365.05,317.5v1.2M365.05,477.7v-1.2M45.5,314.15h5.5M371.5,314.15h-5.5M45.5,300.06h5.5M371.5,300.06h-5.5M45.5,290.06h5.5M371.5,290.06h-5.5M45.5,282.30h5.5M371.5,282.30h-5.5M45.5,275.96h5.5M371.5,275.96h-5.5M45.5,270.60h5.5M371.5,270.60h-5.5M45.5,265.96h5.5M371.5,265.96h-5.5M45.5,261.86h5.5M371.5,261.86h-5.5M45.5,258.20h11.0M371.5,258.20h-11.0M45.5,234.10h5.5M371.5,234.10h-5.5M45.5,220.01h5.5M371.5,220.01h-5.5M45.5,210.01h5.5M371.5,210.01h-5.5M45.5,202.25h5.5M371.5,202.25h-5.5M45.5,195.91h5.5M371.5,195.91h-5.5M45.5,190.55h5.5M371.5,190.55h-5.5M45.5,185.91h5.5M371.5,185.91h-5.5M45.5,181.81h5.5M371.5,181.81h-5.5M45.5,178.15h11.0M371.5,178.15h-11.0M45.5,154.05h5.5M371.5,154.05h-5.5M45.5,139.96h5.5M371.5,139.96h-5.5M45.5,129.96h5.5M371.5,129.96h-5.5M45.5,122.20h5.5M371.5,122.20h-5.5M45.5,115.86h5.5M371.5,115.86h-5.5M45.5,110.50h5.5M371.5,110.50h-5.5M45.5,105.86h5.5M371.5,105.86h-5.5M45.5,101.76h5.5M371.5,101.76h-5.5M45.5,98.10h11.0M371.5,98.10h-11.0M45.5,74.00h5.5M371.5,74.00h-5.5M45.5,59.91h5.5M371.5,59.91h-5.5M45.5,49.91h5.5M371.5,49.91h-5.5M45.5,42.15h5.5M371.5,42.15h-5.5M45.5,35.81h5.5M371.5,35.81h-5.5M45.5,30.45h5.5M371.5,30.45h-5.5M45.5,25.81h5.5M371.5,25.81h-5.5M45.5,21.71h5.5M371.5,21.71h-5.5M45.5,18.05h11.0M371.5,18.05h-11.0M45.5,477.71h5.0M371.5,477.71h-5.0M45.5,458.20h7.0M371.5,458.20h-7.0M45.5,442.26h5.0M371.5,442.26h-5.0M45.5,428.78h5.0M371.5,428.78h-5.0M45.5,417.11h5.0M371.5,417.11h-5.0M45.5,406.81h5.0M371.5,406.81h-5.0M45.5,397.60h7.0M371.5,397.60h-7.0M45.5,389.27h5.0M371.5,389.27h-5.0M45.5,381.66h5.0M371.5,381.66h-5.0M45.5,374.66h5.0M371.5,374.66h-5.0M45.5,368.18h5.0M371.5,368.18h-5.0M45.5,362.15h5.0M371.5,362.15h-5.0M45.5,356.51h5.0M371.5,356.51h-5.0M45.5,351.21h5.0M371.5,351.21h-5.0M45.5,346.21h5.0M371.5,346.21h-5.0M45.5,341.49h5.0M371.5,341.49h-5.0M45.5,337.00h7.0M371.5,337.00h-7.0M45.5,332.74h5.0M371.5,332.74h-5.0M45.5,328.67h5.0M371.5,328.67h-5.0M45.5,324.78h5.0M371.5,324.78h-5.0M45.5,321.06h5.0M371.5,321.06h-5.0M45.5,317.49h5.0M371.5,317.49h-5.0" stroke="#000" stroke-width="0.95" fill="none"/>
<text x="334.6" y="13.5" font-size="12" text-anchor="start" fill="#000" style="color:#000" textLength="30.2" lengthAdjust="spacing">Z+Jet</text>
<text x="80.6" y="41.7" font-size="12" fill="#000">Transmax region, 60 &lt; p<tspan font-size="7.5" dx="-0.7" dy="-6.3">Z</tspan><tspan font-size="7.5" dx="-4.8" dy="13.1">T</tspan><tspan dy="-6.8"> &lt; 80 [GeV], high thrust</tspan></text>
<path d="M54.80,13.70V5.30" stroke="#000" stroke-width="1.05" fill="none"/>
<path d="M55.32,5.30L54.27,5.30C53.67,6.96 53.00,7.15 52.40,7.15L52.40,7.90C53.40,7.90 54.27,7.45 54.27,7.25Z" fill="#000"/>
<text x="58.4" y="13.6" font-size="12" text-anchor="start" fill="#000" style="color:#000" textLength="70.8" lengthAdjust="spacing">3000 GeV pp</text>
<path d="M30.40,22.80V15.00" stroke="#000" stroke-width="1.05" fill="none"/>
<path d="M30.92,15.00L29.88,15.00C29.27,16.54 28.60,16.72 28.00,16.72L28.00,17.47C29.00,17.47 29.88,17.02 29.88,16.82Z" fill="#000"/>
<text x="33.9" y="22.9" font-size="12" text-anchor="start" fill="#000" style="color:#000" >0</text>
<path d="M38.40,102.70V95.10" stroke="#000" stroke-width="1.05" fill="none"/>
<path d="M38.92,95.10L37.88,95.10C37.27,96.60 36.60,96.77 36.00,96.77L36.00,97.52C37.00,97.52 37.88,97.07 37.88,96.87Z" fill="#000"/>
<path d="M24.10,182.60V175.00" stroke="#000" stroke-width="1.05" fill="none"/>
<path d="M24.62,175.00L23.58,175.00C22.98,176.50 22.30,176.67 21.70,176.67L21.70,177.42C22.70,177.42 23.58,176.97 23.58,176.77Z" fill="#000"/>
<text x="26.4" y="182.7" font-size="12" text-anchor="start" fill="#000" style="color:#000" >0</text>
<path d="M33.10,176.60H37.20" stroke="#000" stroke-width="0.9"/>
<path d="M39.20,178.60V174.00" stroke="#000" stroke-width="0.85" fill="none"/>
<path d="M39.62,174.00L38.78,174.00C38.18,174.91 38.50,175.01 37.90,175.01L37.90,175.76C38.90,175.76 38.78,175.31 38.78,175.11Z" fill="#000"/>
<path d="M22.10,262.60V255.00" stroke="#000" stroke-width="1.05" fill="none"/>
<path d="M22.62,255.00L21.58,255.00C20.98,256.50 20.30,256.67 19.70,256.67L19.70,257.42C20.70,257.42 21.58,256.97 21.58,256.77Z" fill="#000"/>
<text x="24.4" y="262.7" font-size="12" text-anchor="start" fill="#000" style="color:#000" >0</text>
<path d="M31.10,256.30H34.50" stroke="#000" stroke-width="0.9"/>
<text x="34.6" y="258.7" font-size="7" text-anchor="start" fill="#000" style="color:#000" >2</text>
<text x="31.6" y="340.9" font-size="12" text-anchor="start" fill="#000" style="color:#000" >2</text>
<path d="M36.80,402.10V394.20" stroke="#000" stroke-width="1.05" fill="none"/>
<path d="M37.32,394.20L36.27,394.20C35.67,395.76 35.00,395.94 34.40,395.94L34.40,396.69C35.40,396.69 36.27,396.24 36.27,396.04Z" fill="#000"/>
<text x="38.4" y="462.2" font-size="12" text-anchor="end" fill="#000" style="color:#000" >0.5</text>
<text x="373.6" y="340.9" font-size="12" text-anchor="start" fill="#000" style="color:#000" >2</text>
<path d="M377.60,402.70V394.70" stroke="#000" stroke-width="1.05" fill="none"/>
<path d="M378.12,394.70L377.08,394.70C376.48,396.28 375.80,396.46 375.20,396.46L375.20,397.21C376.20,397.21 377.08,396.76 377.08,396.56Z" fill="#000"/>
<text x="373.5" y="462.2" font-size="12" text-anchor="start" fill="#000" style="color:#000" >0.5</text>
<text x="59.10" y="488.9" font-size="12" text-anchor="middle" fill="#000" style="color:#000" >0</text>
<path d="M131.60,488.70V480.80" stroke="#000" stroke-width="1.05" fill="none"/>
<path d="M132.12,480.80L131.07,480.80C130.47,482.36 129.80,482.54 129.20,482.54L129.20,483.29C130.20,483.29 131.07,482.84 131.07,482.64Z" fill="#000"/>
<text x="201.40" y="488.9" font-size="12" text-anchor="middle" fill="#000" style="color:#000" >2</text>
<text x="272.55" y="488.9" font-size="12" text-anchor="middle" fill="#000" style="color:#000" >3</text>
<text x="343.70" y="488.9" font-size="12" text-anchor="middle" fill="#000" style="color:#000" >4</text>
<text x="318.2" y="502.5" font-size="12" textLength="50.5" lengthAdjust="spacing">N<tspan font-size="8" dy="3">ch</tspan><tspan dy="-3">/dη dϕ</tspan></text>
<text transform="translate(15.4,132.2) rotate(-90)" font-size="12" textLength="111" lengthAdjust="spacing">1/N<tspan font-size="7" dy="3.2">ev</tspan><tspan dy="-3.2"> dN</tspan><tspan font-size="7" dy="3.2">ev</tspan><tspan dy="-3.2">/dN</tspan><tspan font-size="7" dy="3.2">ch</tspan><tspan dy="-3.2">/dη dϕ</tspan></text>
<text transform="translate(19.4,427.6) rotate(-90)" font-size="9.6" textLength="61.6" lengthAdjust="spacing">Ratio to ATLAS</text>
<text transform="translate(380.6,126.8) rotate(-90)" class="g" font-size="9.5" fill="#707070" textLength="109.5" lengthAdjust="spacing">Rivet 4.1.0, ≥ 1.9M events</text>
<text transform="translate(381.8,313.2) rotate(-90)" class="g" font-size="9.5" fill="#707070" textLength="141.8" lengthAdjust="spacing">mcplots.cern.ch [arXiv:1306.3436]</text>
<text x="162.6" y="301.6" font-size="8" text-anchor="start" fill="#959595" style="color:#959595" class="g" textLength="89.8" lengthAdjust="spacing">(ATLAS_2019_I1736531)</text>
<rect x="73.90" y="221.40" width="5.00" height="5.00" fill="#000"/>
<text x="94.3" y="226.6" font-size="9" text-anchor="start" fill="#000" style="color:#000" class="b" textLength="28.2" lengthAdjust="spacing">ATLAS</text>
<line x1="64" y1="237.1" x2="89" y2="237.1" stroke="#a5183c" stroke-width="1.05" />
<polygon points="76.40,233.80 79.45,239.70 73.35,239.70" fill="none" stroke="#a5183c" stroke-width="1.05"/>
<text x="94.3" y="239.6" font-size="9" text-anchor="start" fill="#000" style="color:#000" class="b" textLength="69.3" lengthAdjust="spacing">Pythia 6.428 370</text>
<line x1="64" y1="250.1" x2="89" y2="250.1" stroke="#7b3f62" stroke-width="1.05" stroke-dasharray="3.5,2,1,2"/>
<rect x="74.10" y="247.80" width="4.60" height="4.60" fill="none" stroke="#7b3f62" stroke-width="1.1"/>
<text x="94.3" y="252.6" font-size="9" text-anchor="start" fill="#000" style="color:#000" class="b" textLength="69.3" lengthAdjust="spacing">Pythia 6.428 391</text>
<line x1="64" y1="263.1" x2="89" y2="263.1" stroke="#ff7325" stroke-width="1.05" stroke-dasharray="3.5,2,1,2"/>
<rect x="74.15" y="260.85" width="4.50" height="4.27" fill="#ff7325"/>
<text x="94.3" y="265.3" font-size="9" text-anchor="start" fill="#000" style="color:#000" class="b" textLength="83.3" lengthAdjust="spacing">Pythia 6.428 default</text>
<line x1="64" y1="276.2" x2="89" y2="276.2" stroke="#0505e6" stroke-width="1.05" />
<polygon points="76.40,273.10 79.20,278.80 73.60,278.80" fill="#0505e6"/>
<text x="94.3" y="278.2" font-size="9" text-anchor="start" fill="#000" style="color:#000" class="b" textLength="83.3" lengthAdjust="spacing">Pythia 8.315 default</text>
</svg></body></html>
